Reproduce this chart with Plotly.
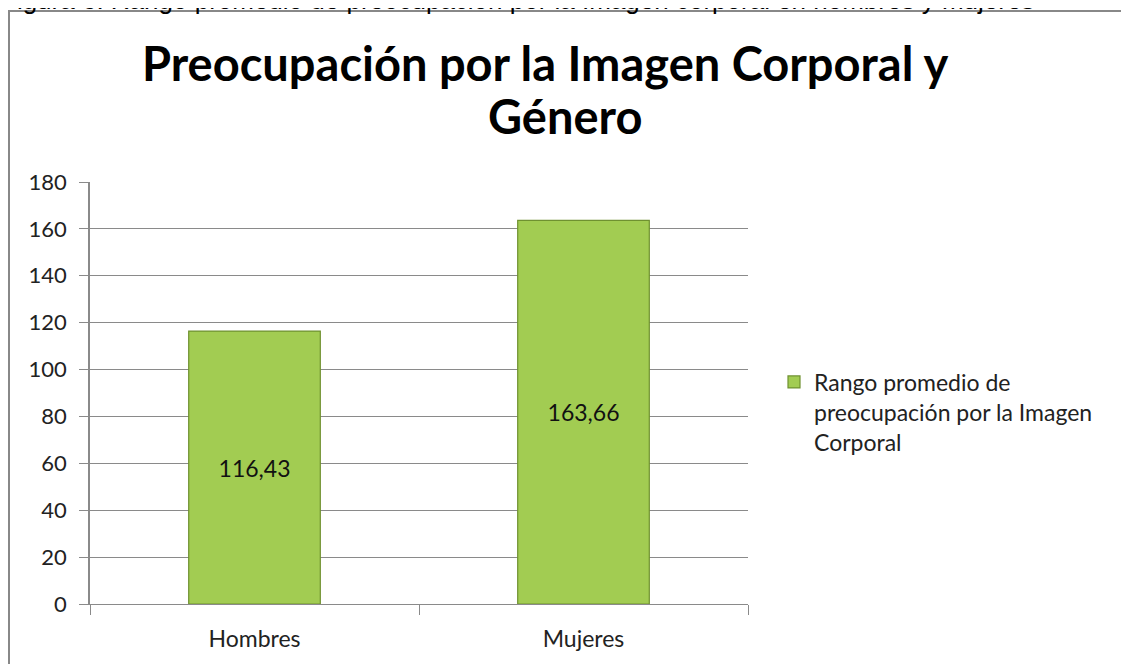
import plotly.graph_objects as go

categories = ["Hombres", "Mujeres"]
values = [116.43, 163.66]
value_labels = ["116,43", "163,66"]
series_name = "Rango promedio de<br>preocupación por la Imagen<br>Corporal"
y_ticks = [0, 20, 40, 60, 80, 100, 120, 140, 160, 180]

W, H = 1129, 664
OFF = 8  # page offset of the figure in the screenshot
L, R, T, B = 82, 389, 174, 68
pw, ph = W - L - R, H - T - B

def px_x(sx):
    return (sx - OFF - L) / pw

def px_y(sy):
    return (H - B - (sy - OFF)) / ph

font = "Lato, Carlito, 'Open Sans', sans-serif"

fig = go.Figure()
fig.add_trace(go.Bar(
    x=categories, y=values, name=series_name,
    text=value_labels, textposition="inside", insidetextanchor="middle",
    textfont=dict(family=font, size=23, color="#111111"),
    marker=dict(color="#a2cc52", line=dict(color="#6f9130", width=1.2)),
    showlegend=True,
))

fig.update_layout(
    width=W, height=H,
    margin=dict(l=L, r=R, t=T, b=B),
    paper_bgcolor="white", plot_bgcolor="white",
    bargap=0.6,
    font=dict(family=font, size=22, color="#222222"),
    legend=dict(x=px_x(774), xanchor="left", y=px_y(412), yanchor="middle",
                font=dict(family=font, size=23, color="#222222"),
                bgcolor="rgba(0,0,0,0)", itemwidth=30, valign="top"),
    xaxis=dict(showline=True, linecolor="#8a8a8a", linewidth=1,
               ticks="outside", tickson="boundaries", ticklen=10, tickcolor="#8a8a8a",
               tickfont=dict(family=font, size=23, color="#222222"),
               ticklabelstandoff=14, showgrid=False),
    yaxis=dict(range=[0, 180], tickvals=y_ticks, showline=True, linecolor="#8a8a8a",
               linewidth=1.5, ticks="outside", ticklen=9, tickcolor="#8a8a8a",
               gridcolor="#8a8a8a", gridwidth=1, zeroline=False,
               ticklabelstandoff=8,
               tickfont=dict(family=font, size=22, color="#222222")),
    showlegend=True,
)

# title (two lines, as separate annotations to control spacing)
fig.add_annotation(text="<b>Preocupación por la Imagen Corporal y</b>",
                   xref="paper", yref="paper", x=px_x(545), y=px_y(63),
                   xanchor="center", yanchor="middle", showarrow=False,
                   font=dict(family=font, size=47, color="black"))
fig.add_annotation(text="<b>Género</b>",
                   xref="paper", yref="paper", x=px_x(565), y=px_y(116),
                   xanchor="center", yanchor="middle", showarrow=False,
                   font=dict(family=font, size=47, color="black"))

# outer chart frame
fig.add_shape(type="rect", xref="paper", yref="paper",
              x0=px_x(9), x1=px_x(1145), y0=px_y(690), y1=px_y(11),
              line=dict(color="#888888", width=2), fillcolor="rgba(0,0,0,0)", layer="below")

# cut-off caption above the frame
fig.add_annotation(text="Figura 6. Rango promedio de preocupación por la Imagen corporal en hombres y mujeres",
                   xref="paper", yref="paper", x=px_x(-1), y=px_y(0),
                   xanchor="left", yanchor="middle", showarrow=False,
                   font=dict(family="Liberation Sans, Arial, sans-serif", size=26, color="black"))

fig.write_html("out.html")
